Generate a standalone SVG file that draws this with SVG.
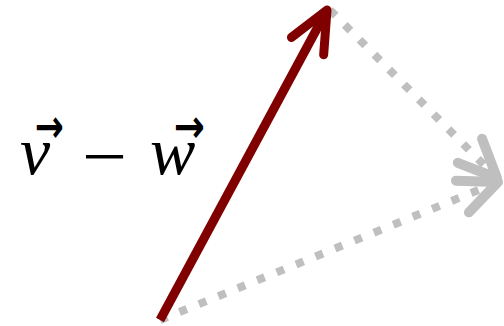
<svg xmlns="http://www.w3.org/2000/svg" width="504" height="326" viewBox="0 0 504 326">
  <style>
    .gray { fill: none; stroke: #bfbfbf; stroke-width: 8; stroke-dasharray: 8 13; }
    .red { fill: none; stroke: #800000; stroke-width: 9; }
    .lbl { font-family: "Liberation Serif", serif; font-style: italic; font-size: 68px; fill: #000; }
    .acc { font-family: "DejaVu Sans", sans-serif; font-style: normal; font-weight: bold; font-size: 46px; }
  </style>
  <defs>
    <marker id="headGray" markerUnits="userSpaceOnUse" markerWidth="1" markerHeight="1" refX="0" refY="0" orient="auto" overflow="visible">
      <path d="M-38.4,-17.1 L0,0 L-38.4,17.1" fill="none" stroke="#bfbfbf" stroke-width="10" stroke-linecap="round" stroke-linejoin="round"/>
    </marker>
    <marker id="headRed" markerUnits="userSpaceOnUse" markerWidth="1" markerHeight="1" refX="0" refY="0" orient="auto" overflow="visible">
      <path d="M-41,-18.3 L0,0 L-41,18.3" fill="none" stroke="#800000" stroke-width="9" stroke-linecap="round" stroke-linejoin="round"/>
    </marker>
  </defs>
  <g id="connectors">
    <path id="w-line" class="gray" d="M160,320 L498,182" marker-end="url(#headGray)"/>
    <path id="diff-line" class="gray" d="M330,10 L497,178" marker-end="url(#headGray)"/>
    <path id="v-line" class="red" d="M160,320 L327,10" marker-end="url(#headRed)"/>
  </g>
  <g id="label">
    <text class="lbl"><tspan x="20" y="174">v</tspan><tspan class="acc" x="35" y="142" textLength="29" lengthAdjust="spacingAndGlyphs">→</tspan><tspan x="82" y="180" font-style="normal" font-size="70" textLength="45" lengthAdjust="spacingAndGlyphs">−</tspan><tspan x="150" y="174">w</tspan><tspan class="acc" x="174" y="142" textLength="31" lengthAdjust="spacingAndGlyphs">→</tspan></text>
  </g>
</svg>
